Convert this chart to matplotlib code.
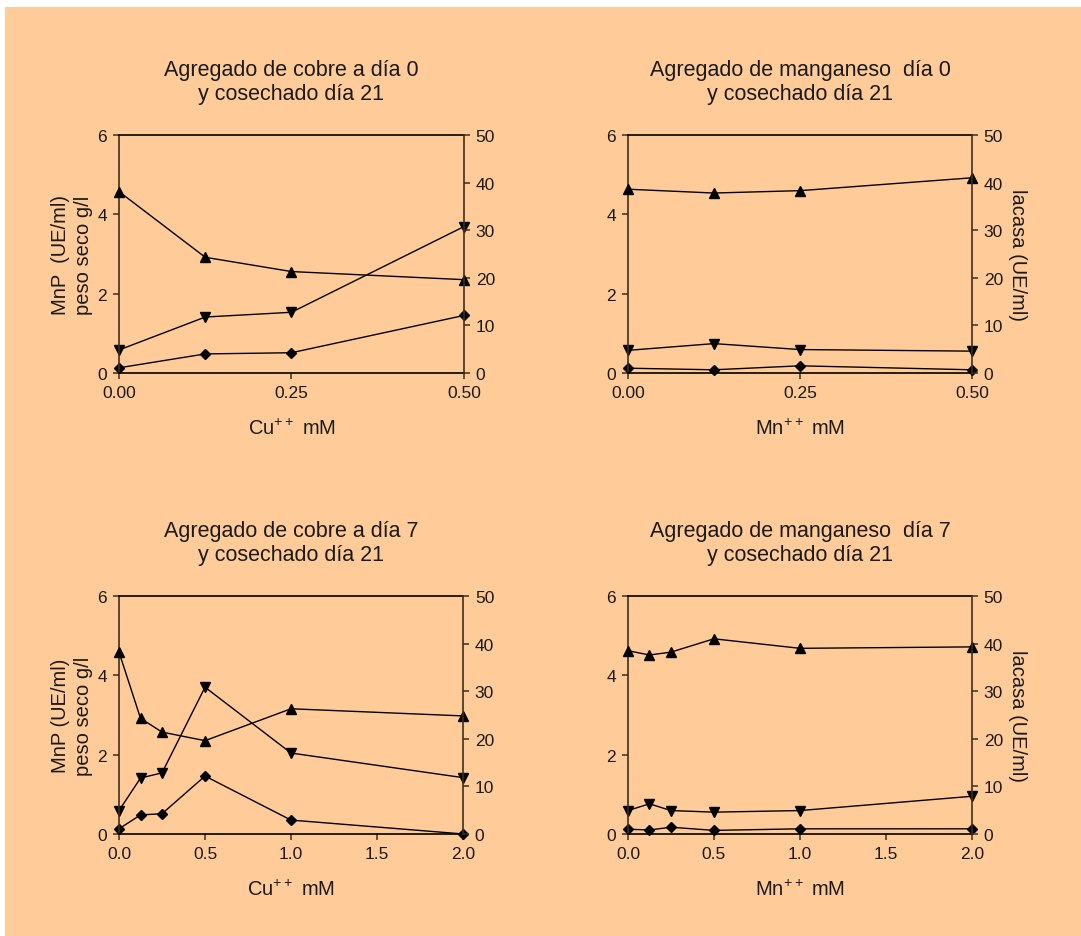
import matplotlib.pyplot as plt
from matplotlib.patches import Rectangle

plt.rcParams['font.family'] = ['Liberation Sans', 'DejaVu Sans']
plt.rcParams['mathtext.fontset'] = 'custom'
plt.rcParams['mathtext.rm'] = 'Liberation Sans'
plt.rcParams['mathtext.default'] = 'regular'

# --- concentrations (mM) ---
conc_short = [0.0, 0.125, 0.25, 0.5]
conc_long = [0.0, 0.125, 0.25, 0.5, 1.0, 2.0]

# --- copper added day 0 ---
cu0_lacasa = [38.1, 24.3, 21.3, 19.6]     # UE/ml, right axis
cu0_mnp = [0.58, 1.41, 1.53, 3.69]         # UE/ml
cu0_peso = [0.13, 0.48, 0.51, 1.45]        # g/l

# --- manganese added day 0 ---
mn0_lacasa = [38.6, 37.8, 38.3, 41.0]
mn0_mnp = [0.57, 0.74, 0.59, 0.55]
mn0_peso = [0.12, 0.08, 0.18, 0.08]

# --- copper added day 7 ---
cu7_lacasa = [38.2, 24.3, 21.4, 19.6, 26.3, 24.8]
cu7_mnp = [0.59, 1.41, 1.54, 3.70, 2.04, 1.42]
cu7_peso = [0.13, 0.48, 0.51, 1.46, 0.35, 0.0]

# --- manganese added day 7 ---
mn7_lacasa = [38.5, 37.6, 38.2, 41.0, 39.0, 39.3]
mn7_mnp = [0.59, 0.76, 0.59, 0.55, 0.59, 0.95]
mn7_peso = [0.12, 0.10, 0.17, 0.09, 0.13, 0.13]

titles = ['Agregado de cobre a día 0\ny cosechado día 21',
          'Agregado de manganeso  día 0\ny cosechado día 21',
          'Agregado de cobre a día 7\ny cosechado día 21',
          'Agregado de manganeso  día 7\ny cosechado día 21']
xlabels = ['Cu$^{++}$ mM', 'Mn$^{++}$ mM', 'Cu$^{++}$ mM', 'Mn$^{++}$ mM']
left_labels = ['MnP  (UE/ml)\npeso seco g/l', None, 'MnP (UE/ml)\npeso seco g/l', None]
right_label = 'lacasa (UE/ml)'

BG = '#FFCC99'
SPINE = '#3e2f1e'
TXT = '#1a1a1a'

fig = plt.figure(figsize=(10.81, 9.37), dpi=100, facecolor='white')
fig.patches.append(Rectangle((5 / 1081, 0), 1, 1 - 8 / 937, transform=fig.transFigure,
                             facecolor=BG, edgecolor='none', zorder=-10))

# axes boxes in figure fractions
boxes = [(0.1101, 0.6009, 0.3191, 0.254),
         (0.5809, 0.6009, 0.3182, 0.254),
         (0.1101, 0.1089, 0.3182, 0.254),
         (0.5809, 0.1089, 0.3182, 0.254)]

panels = [(conc_short, cu0_lacasa, cu0_mnp, cu0_peso),
          (conc_short, mn0_lacasa, mn0_mnp, mn0_peso),
          (conc_long, cu7_lacasa, cu7_mnp, cu7_peso),
          (conc_long, mn7_lacasa, mn7_mnp, mn7_peso)]


def draw_panel(i):
    x, lac, mnp, peso = panels[i]
    ax = fig.add_axes(boxes[i])
    ax.set_facecolor('none')
    ax2 = ax.twinx()

    line_kw = dict(color='black', linewidth=1.0, clip_on=False)
    ax.plot(x, mnp, marker='v', markersize=6.5, **line_kw)
    ax.plot(x, peso, marker='D', markersize=4.8, **line_kw)
    ax2.plot(x, lac, marker='^', markersize=6.5, **line_kw)

    ax.set_ylim(0, 6)
    ax.set_yticks([0, 2, 4, 6])
    ax2.set_ylim(0, 50)
    ax2.set_yticks([0, 10, 20, 30, 40, 50])
    if x[-1] > 1:
        ax.set_xlim(0, 2)
        ax.set_xticks([0, 0.5, 1.0, 1.5, 2.0])
        ax.set_xticklabels(['0.0', '0.5', '1.0', '1.5', '2.0'])
    else:
        ax.set_xlim(0, 0.5)
        ax.set_xticks([0, 0.25, 0.5])
        ax.set_xticklabels(['0.00', '0.25', '0.50'])

    for a in (ax, ax2):
        for s in a.spines.values():
            s.set_linewidth(1.2)
        a.spines['top'].set_color('black')
        a.spines['bottom'].set_color('black')
        a.spines['left'].set_color(SPINE)
        a.spines['right'].set_color(SPINE)
        a.tick_params(direction='out', length=4.5, width=1.1, color=SPINE,
                      labelsize=12.5, labelcolor=TXT, pad=4)
    ax2.spines['left'].set_visible(False)
    ax2.spines['top'].set_visible(False)
    ax2.spines['bottom'].set_visible(False)
    ax.spines['right'].set_visible(False)

    ax.set_title(titles[i], fontsize=15.5, color=TXT, pad=26, linespacing=1.2)
    ax.set_xlabel(xlabels[i], fontsize=14.5, color=TXT, labelpad=13)
    if left_labels[i]:
        ax.set_ylabel(left_labels[i], fontsize=14.5, color=TXT, labelpad=3,
                      linespacing=1.3)
    else:
        ax2.set_ylabel(right_label, fontsize=14.5, color=TXT, rotation=270,
                       labelpad=17)


for i in range(4):
    draw_panel(i)

fig.savefig('out.png', dpi=100, facecolor='white')
